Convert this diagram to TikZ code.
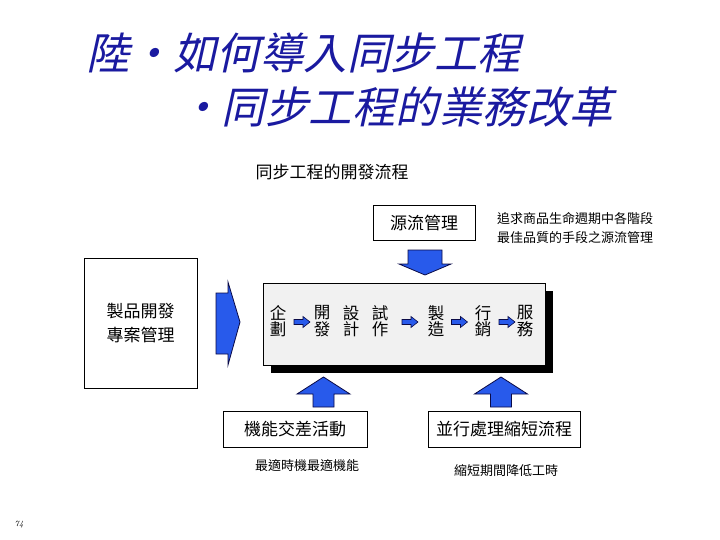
\documentclass[tikz,border=0pt]{standalone}
\usepackage{fontspec}
\setmainfont{Noto Sans CJK TC}
\newfontfamily\titlefont{Noto Sans CJK TC}[FakeSlant=0.22]
\newfontfamily\lmfont{Latin Modern Roman}
\usetikzlibrary{shadows,calc}
\definecolor{titleblue}{RGB}{26,26,160}
\definecolor{arrblue}{RGB}{40,90,235}
\definecolor{arredge}{RGB}{10,10,70}
\definecolor{panelgray}{RGB}{241,241,241}
\tikzset{
  titletext/.style={anchor=west, inner sep=0pt, text=titleblue, font=\titlefont\fontsize{43.5}{43.5}\selectfont},
  bodytext/.style={inner sep=0pt, font=\fontsize{17}{24}\selectfont},
  smalltext/.style={inner sep=0pt, font=\fontsize{13}{19}\selectfont},
  boxed/.style={draw=black, line width=0.9pt, fill=white, inner sep=0pt, font=\fontsize{17}{24}\selectfont},
  vtext/.style={inner sep=0pt, align=center, font=\fontsize{16.5}{16.5}\selectfont},
  blockarrow/.style={fill=arrblue, draw=arredge, line width=0.8pt, line join=miter},
  sarrow/.pic={\draw[blockarrow, line width=0.6pt] (-8,-2.5) -- (1,-2.5) -- (1,-5.5) -- (8,0) -- (1,5.5) -- (1,2.5) -- (-8,2.5) -- cycle;}
}
\begin{document}
\begin{tikzpicture}[x=1pt,y=-1pt]
\useasboundingbox (0,0) rectangle (720,540);
\fill[white] (0,0) rectangle (720,540);

% titles
\node[titletext] (t1) at (86,53) {陸・如何導入同步工程};
\node[titletext] (t2) at (178,107) {・同步工程的業務改革};

\node[bodytext] (sub) at (332,172) {同步工程的開發流程};

% source management
\node[boxed, minimum width=102pt, minimum height=35pt] (src) at (424,222.5) {源流管理};
\node[smalltext, anchor=west, align=left] (note) at (497,228) {追求商品生命週期中各階段\\最佳品質的手段之源流管理};

% left box
\node[boxed, minimum width=113pt, minimum height=130pt, align=center] (pm) at (140.5,323) {製品開發\\專案管理};

% main process panel
\node[draw=black, line width=0.9pt, fill=panelgray, minimum width=282pt, minimum height=82pt,
      drop shadow={shadow xshift=8pt, shadow yshift=-8pt, fill=black, opacity=1}] (main) at (404,324) {};

\node[vtext] (s1) at (278,321) {企\\劃};
\node[vtext] (s2) at (322,321) {開\\發};
\node[vtext] (s3) at (351,321) {設\\計};
\node[vtext] (s4) at (380,321) {試\\作};
\node[vtext] (s5) at (436,321) {製\\造};
\node[vtext] (s6) at (483,321) {行\\銷};
\node[vtext] (s7) at (525,321) {服\\務};

\pic at ($(s1.east)!0.5!(s2.west)+(2,1)$) {sarrow};
\pic at ($(s4.east)!0.5!(s5.west)+(2,1)$) {sarrow};
\pic at ($(s5.east)!0.5!(s6.west)+(0,1)$) {sarrow};
\pic at ($(s6.east)!0.5!(s7.west)+(3,1)$) {sarrow};

% big arrow into panel
\draw[blockarrow] (216,293) -- (228,293) -- (228,282) -- (240,322) -- (228,365) -- (228,354) -- (216,354) -- cycle;

% down arrow from source management
\draw[blockarrow] (408,250) -- (442,250) -- (442,264) -- (451,264) -- (425,275) -- (399,264) -- (408,264) -- cycle;

% up arrows
\draw[blockarrow] (313,407) -- (313,394) -- (297,394) -- (323.5,377) -- (350,394) -- (334,394) -- (334,407) -- cycle;
\draw[blockarrow] (490.5,407) -- (490.5,394) -- (474.5,394) -- (501,377) -- (527.5,394) -- (511.5,394) -- (511.5,407) -- cycle;

% bottom boxes
\node[boxed, minimum width=144pt, minimum height=36pt] (f1) at (295,429.5) {機能交差活動};
\node[boxed, minimum width=152pt, minimum height=36pt] (f2) at (504,429.5) {並行處理縮短流程};

\node[smalltext] (c1) at (307,466) {最適時機最適機能};
\node[smalltext] (c2) at (506,471) {縮短期間降低工時};

\node[inner sep=0pt, font=\lmfont\itshape\fontsize{8}{8}\selectfont] (pg) at (19,525) {74};
\end{tikzpicture}
\end{document}
